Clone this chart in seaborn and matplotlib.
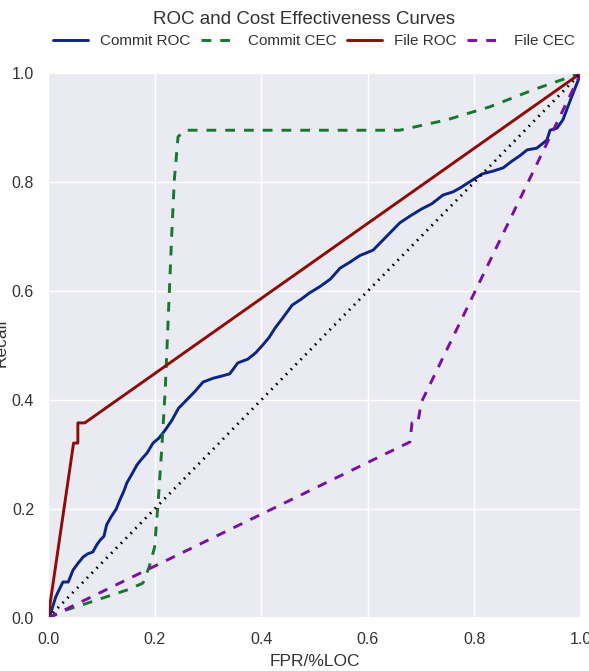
import matplotlib
matplotlib.use("Agg")
import matplotlib.pyplot as plt
import seaborn as sns

# ---- data ----
commit_roc_fpr = [0.0, 0.004, 0.015, 0.028, 0.038, 0.047, 0.056, 0.066, 0.075, 0.084, 0.092,
                  0.098, 0.105, 0.110, 0.118, 0.128, 0.135, 0.142, 0.148, 0.158, 0.167, 0.176,
                  0.186, 0.197, 0.208, 0.220, 0.232, 0.245, 0.260, 0.275, 0.291, 0.310, 0.330,
                  0.341, 0.356, 0.375, 0.390, 0.403, 0.415, 0.426, 0.440, 0.458, 0.475, 0.490,
                  0.510, 0.530, 0.548, 0.565, 0.585, 0.610, 0.623, 0.640, 0.660, 0.680, 0.700,
                  0.720, 0.741, 0.760, 0.773, 0.797, 0.815, 0.835, 0.854, 0.870, 0.885, 0.899,
                  0.917, 0.936, 0.942, 0.955, 0.966, 0.980, 1.0]
commit_roc_tpr = [0.0, 0.006, 0.040, 0.066, 0.066, 0.088, 0.100, 0.112, 0.118, 0.121, 0.135,
                  0.143, 0.150, 0.171, 0.185, 0.200, 0.217, 0.232, 0.248, 0.265, 0.281, 0.292,
                  0.303, 0.321, 0.330, 0.345, 0.362, 0.385, 0.400, 0.415, 0.433, 0.440, 0.445,
                  0.448, 0.468, 0.475, 0.487, 0.501, 0.515, 0.532, 0.550, 0.574, 0.585, 0.596,
                  0.608, 0.622, 0.642, 0.652, 0.665, 0.675, 0.688, 0.705, 0.725, 0.738, 0.750,
                  0.760, 0.776, 0.782, 0.789, 0.804, 0.815, 0.820, 0.826, 0.838, 0.848, 0.859,
                  0.862, 0.877, 0.895, 0.899, 0.914, 0.950, 1.0]

commit_cec_x = [0.0, 0.035, 0.070, 0.110, 0.150, 0.178, 0.190, 0.200, 0.207, 0.214, 0.220,
                0.226, 0.232, 0.237, 0.244, 0.257, 0.400, 0.550, 0.660, 0.748, 0.829,
                0.910, 1.0]
commit_cec_y = [0.0, 0.015, 0.026, 0.039, 0.052, 0.064, 0.094, 0.130, 0.217, 0.320, 0.420,
                0.560, 0.700, 0.804, 0.883, 0.895, 0.895, 0.895, 0.895, 0.914, 0.938,
                0.969, 1.0]

file_roc_fpr = [0.0, 0.048, 0.056, 0.056, 0.069, 1.0]
file_roc_tpr = [0.0, 0.321, 0.321, 0.358, 0.358, 1.0]

file_cec_x = [0.0, 0.679, 0.683, 0.694, 0.700, 1.0]
file_cec_y = [0.0, 0.323, 0.358, 0.358, 0.395, 1.0]

chance_x = [0.0, 1.0]
chance_y = [0.0, 1.0]

x_ticks = [0.0, 0.2, 0.4, 0.6, 0.8, 1.0]
y_ticks = [0.0, 0.2, 0.4, 0.6, 0.8, 1.0]

# ---- style ----
sns.set_theme(style="darkgrid", context="notebook")
plt.rcParams['font.family'] = ['Liberation Sans', 'DejaVu Sans']
plt.rcParams['lines.scale_dashes'] = False
plt.rcParams['xtick.major.pad'] = 4
plt.rcParams['ytick.major.pad'] = 4

W, H = 589, 671
fig = plt.figure(figsize=(W / 100, H / 100), dpi=100)
ax = fig.add_axes([48 / W, (H - 618) / H, 533 / W, 545 / H])

dash = (0, (7.0, 6.5))
sns.lineplot(x=commit_roc_fpr, y=commit_roc_tpr, sort=False, estimator=None, ax=ax,
             color="#0b2586", lw=2.1, label="Commit ROC")
sns.lineplot(x=commit_cec_x, y=commit_cec_y, sort=False, estimator=None, ax=ax,
             color="#16782a", lw=2.1, linestyle=dash, label="Commit CEC")
sns.lineplot(x=file_roc_fpr, y=file_roc_tpr, sort=False, estimator=None, ax=ax,
             color="#8e0c08", lw=2.1, label="File ROC")
sns.lineplot(x=file_cec_x, y=file_cec_y, sort=False, estimator=None, ax=ax,
             color="#7a0fa8", lw=2.1, linestyle=dash, label="File CEC")
ax.plot(chance_x, chance_y, color="black", lw=2.0, linestyle=(0, (1.2, 3.8)))

ax.set_xlim(0, 1)
ax.set_ylim(0, 1)
ax.set_xticks(x_ticks)
ax.set_yticks(y_ticks)
ax.set_xticklabels([f"{v:.1f}" for v in x_ticks], fontsize=11.5, color="#333333")
ax.set_yticklabels([f"{v:.1f}" for v in y_ticks], fontsize=11.5, color="#333333")

ax.set_xlabel("FPR/%LOC", fontsize=12.5, color="#333333", va="center", ha="center")
ax.xaxis.set_label_coords(0.5, (618 - 661) / 545)
ax.set_ylabel("Recall", fontsize=12.5, color="#333333", va="center", ha="center")
ax.yaxis.set_label_coords((1 - 48) / 533, (618 - 343) / 545)

handles, labels = ax.get_legend_handles_labels()
if ax.get_legend() is not None:
    ax.get_legend().remove()
fig.legend(handles[:4], labels[:4], loc="center left",
           bbox_to_anchor=(53 / W, 1 - 41 / H), ncol=4, frameon=False,
           fontsize=11, borderpad=0, borderaxespad=0, handlelength=2.3,
           handletextpad=0.75, columnspacing=0.72, labelcolor="#333333")

fig.text(304 / W, 1 - 20 / H, "ROC and Cost Effectiveness Curves", ha="center",
         va="center", fontsize=13.5, color="#333333")

fig.savefig("out.png", dpi=100)
